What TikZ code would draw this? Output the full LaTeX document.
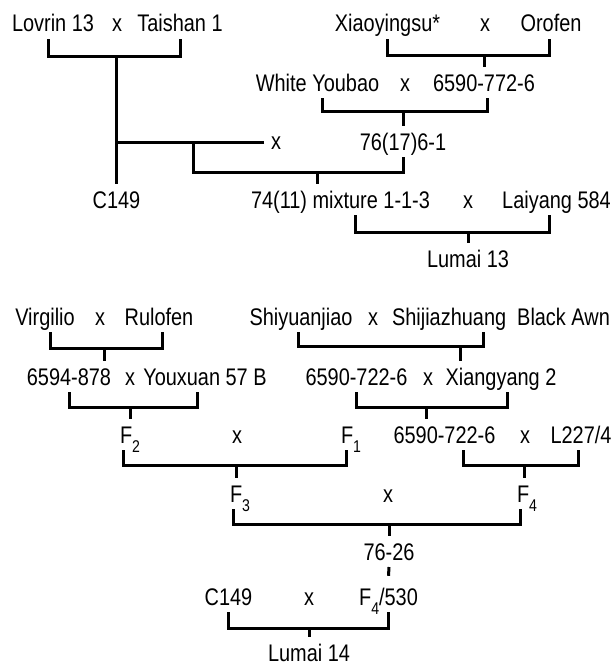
\documentclass[tikz,border=0pt]{standalone}
\usepackage{fontspec}
\setmainfont{Liberation Sans}[FakeStretch=0.83]
\usetikzlibrary{calc}
\newcommand{\lowsub}[1]{\raisebox{-4.5pt}{\fontsize{8.5}{9}\selectfont #1}}
\tikzset{
  lbl/.style={anchor=base, inner sep=0pt, outer sep=3.5pt, text height=8.6pt, text depth=0pt},
  link/.style={line width=1.5pt},
}

\begin{document}
\begin{tikzpicture}[x=0.5pt, y=-0.5pt, font=\fontsize{12}{14}\selectfont]
\useasboundingbox (0,0) rectangle (615,664);
% Lumai 13
\node[lbl] (lovrin) at (53,32) {Lovrin 13};
\node[lbl] (taishan) at (180,32) {Taishan 1};
\node[lbl] (xiao) at (387.5,32) {Xiaoyingsu*};
\node[lbl] (orofen) at (551,32) {Orofen};
\node[lbl] (youbao) at (317.5,91) {White Youbao};
\node[lbl] (sel) at (484,91) {6590-772-6};
\node[lbl] (sel76) at (403,150) {76(17)6-1};
\node[lbl] (cone) at (116.5,208) {C149};
\node[lbl] (mix) at (340.5,208) {74(11) mixture 1-1-3};
\node[lbl] (laiyang) at (556.5,208) {Laiyang 584};
\node[lbl] (lumai13) at (468,267) {Lumai 13};
% Lumai 14
\node[lbl] (virg) at (45,325) {Virgilio};
\node[lbl] (rulo) at (159,325) {Rulofen};
\node[lbl] (shiy) at (301,325) {Shiyuanjiao};
\node[lbl] (shij) at (501,325) {Shijiazhuang\ \ Black Awn};
\node[lbl] (p6594) at (69,385) {6594-878};
\node[lbl] (youx) at (205,385) {Youxuan 57 B};
\node[lbl] (sel2) at (356.5,385) {6590-722-6};
\node[lbl] (xiang) at (501,385) {Xiangyang 2};
\node[lbl, anchor=base west] (ftwo) at (113,443) {F\lowsub{2}};
\node[lbl, anchor=base west] (fone) at (334,443) {F\lowsub{1}};
\node[lbl] (sel3) at (444.5,443) {6590-722-6};
\node[lbl] (l227) at (581,443) {L227/4};
\node[lbl, anchor=base west] (fthree) at (223,502) {F\lowsub{3}};
\node[lbl, anchor=base west] (ffour) at (510,502) {F\lowsub{4}};
\node[lbl] (sel7626) at (389,560) {76-26};
\node[lbl] (cone2) at (228.5,605) {C149};
\node[lbl] (f4530) at (388.5,605) {F\lowsub{4}/530};
\node[lbl] (lumai14) at (309,661) {Lumai 14};
\foreach \n/\x/\y in {xa/117/32, xb/485/32, xc/405/91, xd/276/149, xe/468/208,
    xf/100/325, xg/373/325, xh/130/385, xi/428/385, xj/237/443, xk/525/443,
    xl/388/502, xm/309/605}
  \node[lbl] (\n) at (\x,\y) {x};

\draw[link] ([xshift=-2.5pt]lovrin.south) -- ++(0,-8.5pt) coordinate (b1) -| (taishan.south);
\draw[link] (cone.north) -- (cone.north |- b1);
\draw[link] (xiao.south) -- ++(0,-8pt) coordinate (b2) -| ([xshift=-1pt]orofen.south);
\draw[link] (sel.north) -- (sel.north |- b2);
\draw[link] ([xshift=2.25pt]youbao.south) -- ++(0,-6.5pt) coordinate (b4) -| ([xshift=1.5pt]sel.south);
\draw[link] (sel76.north) -- (sel76.north |- b4);
\coordinate (h1) at ([yshift=-1pt]xd.west);
\draw[link] (h1) -- (cone.north |- h1);
\coordinate (j1) at ($(cone.north |- h1)!0.52!(h1)$);
\draw[link] (sel76.south) -- ++(0,-7.5pt) coordinate (b3) -| (j1);
\coordinate (t3) at ([xshift=-11.75pt]mix.north);
\draw[link] (t3) -- (t3 |- b3);
\draw[link] ([xshift=7.25pt]mix.south) -- ++(0,-8.5pt) coordinate (b5) -| ([xshift=-3.75pt]laiyang.south);
\draw[link] (lumai13.north) -- (lumai13.north |- b5);

\draw[link] ([xshift=2.5pt]virg.south) -- ++(0,-8pt) coordinate (b6) -| ([xshift=1.5pt]rulo.south);
\coordinate (t6) at ([xshift=17.5pt]p6594.north);
\draw[link] (t6) -- (t6 |- b6);
\draw[link] ([xshift=-1.5pt]shiy.south) -- ++(0,-7pt) coordinate (b7) -| ([xshift=-9pt]shij.south);
\coordinate (t7) at ([xshift=-20.5pt]xiang.north);
\draw[link] (t7) -- (t7 |- b7);
\draw[link] (p6594.south) -- ++(0,-7.5pt) coordinate (b8) -| ([xshift=-4pt]youx.south);
\draw[link] (ftwo.north) -- (ftwo.north |- b8);
\draw[link] (sel2.south) -- ++(0,-7.5pt) coordinate (b9) -| ([xshift=3pt]xiang.south);
\coordinate (t9) at ([xshift=-9.25pt]sel3.north);
\draw[link] (t9) -- (t9 |- b9);
\draw[link] ([xshift=5pt]ftwo.south west) -- ++(0,-7.5pt) coordinate (b10) -| ([xshift=6.25pt]fone.south west);
\coordinate (t10) at ([xshift=-2pt]fthree.north);
\draw[link] (t10) -- (t10 |- b10);
\draw[link] ([xshift=9.25pt]sel3.south) -- ++(0,-7.5pt) coordinate (b11) -| ([xshift=-1.5pt]l227.south);
\coordinate (t11) at ([xshift=-1.3pt]ffour.north);
\draw[link] (t11) -- (t11 |- b11);
\draw[link] ([xshift=5pt]fthree.south west) -- ++(0,-7.5pt) coordinate (b12) -| ([xshift=5pt]ffour.south west);
\draw[link] (sel7626.north) -- (sel7626.north |- b12);
\draw[link] (sel7626.south) -- ([yshift=2.5pt]f4530.north);
\draw[link] (cone2.south) -- ++(0,-8pt) coordinate (b13) -| (f4530.south);
\draw[link] (lumai14.north) -- (lumai14.north |- b13);
\end{tikzpicture}
\end{document}
